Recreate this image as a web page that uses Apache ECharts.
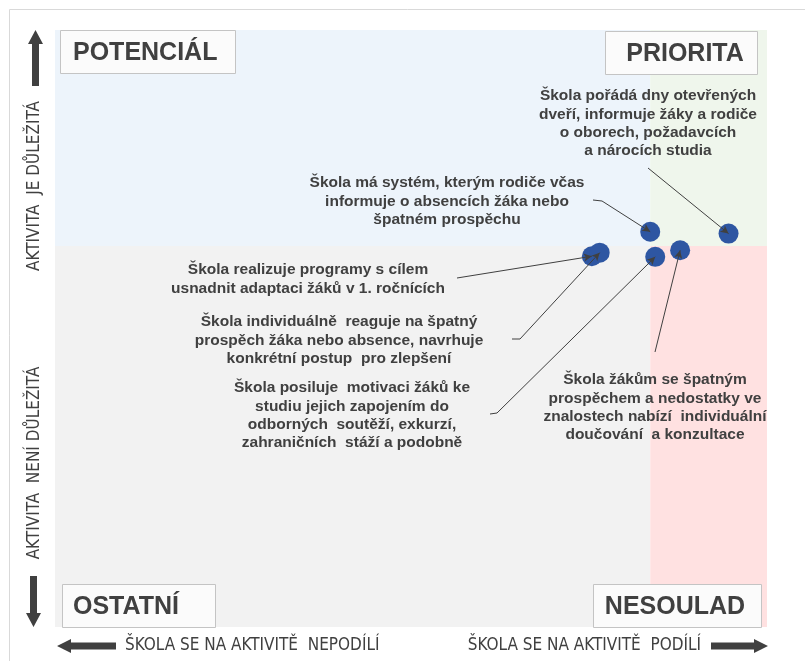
<!DOCTYPE html>
<html lang="cs">
<head>
<meta charset="utf-8">
<title>Matice aktivit školy</title>
<script src="https://cdn.jsdelivr.net/npm/echarts@6/dist/echarts.min.js"></script>
<style>
    html, body { margin: 0; padding: 0; background: #fff; }
    #main { width: 805px; height: 661px; }
</style>
</head>
<body>
<div id="main"></div>
<script type="text/javascript">
// activities (points)
var activities = [
    'Škola pořádá dny otevřených\ndveří, informuje žáky a rodiče\no oborech, požadavcích\na nárocích studia',
    'Škola má systém, kterým rodiče včas\ninformuje o absencích žáka nebo\nšpatném prospěchu',
    'Škola realizuje programy s cílem\nusnadnit adaptaci žáků v 1. ročnících',
    'Škola individuálně  reaguje na špatný\nprospěch žáka nebo absence, navrhuje\nkonkrétní postup  pro zlepšení',
    'Škola posiluje  motivaci žáků ke\nstudiu jejich zapojením do\nodborných  soutěží, exkurzí,\nzahraničních  stáží a podobně',
    'Škola žákům se špatným\nprospěchem a nedostatky ve\nznalostech nabízí  individuální\ndoučování  a konzultace'
];
var podil      = [94.6, 83.6, 75.4, 76.5, 84.3, 87.8];   // x: škola se na aktivitě podílí
var dulezitost = [65.9, 66.2, 62.1, 62.7, 62.0, 63.1];   // y: aktivita je důležitá
var xSplit = 83.6, ySplit = 63.8;
var quadrants = ['POTENCIÁL', 'PRIORITA', 'OSTATNÍ', 'NESOULAD'];
var yAxisTexts = ['AKTIVITA  JE DŮLEŽITÁ', 'AKTIVITA  NENÍ DŮLEŽITÁ'];
var xAxisTexts = ['ŠKOLA SE NA AKTIVITĚ  NEPODÍLÍ', 'ŠKOLA SE NA AKTIVITĚ  PODÍLÍ'];

// layout of callouts (pixels): text centre x, first line y, leader start, optional stub
var callouts = [
    { cx: 648, y: 96,  from: [648, 168] },
    { cx: 447, y: 183, from: [602, 201], stub: [593, 200] },
    { cx: 308, y: 270, from: [457, 278] },
    { cx: 339, y: 322, from: [520, 339], stub: [512, 339] },
    { cx: 352, y: 388, from: [497, 413], stub: [490, 414] },
    { cx: 655, y: 380, from: [655, 352] }
];

var txt = '#404040';
var narrow = '"Liberation Sans Narrow", "DejaVu Sans Condensed", sans-serif';
var boldFont = 'bold 15.5px "Liberation Sans", Arial, sans-serif';

var myChart = echarts.init(document.getElementById('main'));

var points = podil.map(function (v, i) { return [v, dulezitost[i]]; });

var leaders = callouts.map(function (c, i) {
    return [
        { x: c.from[0], y: c.from[1] },
        { coord: points[i] }
    ];
});

var graphics = [];
// outer frame
graphics.push({ type: 'rect', shape: { x: 9.5, y: 9.5, width: 820, height: 680 },
    style: { fill: null, stroke: '#d9d9d9', lineWidth: 1 }, z: -10 });

// callout texts
callouts.forEach(function (c, i) {
    graphics.push({ type: 'text', x: c.cx, y: c.y - 9.15, z: 20,
        style: { text: activities[i], font: boldFont, fill: txt, align: 'center',
            verticalAlign: 'top', lineHeight: 18.3 } });
    if (c.stub) {
        graphics.push({ type: 'line', z: 20,
            shape: { x1: c.stub[0], y1: c.stub[1], x2: c.from[0], y2: c.from[1] },
            style: { stroke: txt, lineWidth: 1 } });
    }
});

// quadrant boxes
var boxes = [
    { x: 60.5, y: 30.5, w: 175, h: 43, tx: 73, align: 'left' },
    { x: 605.5, y: 31.5, w: 152, h: 43, tx: 685, align: 'center' },
    { x: 62.5, y: 584.5, w: 153, h: 43, tx: 73, align: 'left' },
    { x: 593.5, y: 584.5, w: 168, h: 43, tx: 675, align: 'center' }
];
boxes.forEach(function (b, i) {
    graphics.push({ type: 'rect', z: 15, shape: { x: b.x, y: b.y, width: b.w, height: b.h },
        style: { fill: '#fbfbfb', stroke: '#c4c4c4', lineWidth: 1 } });
    graphics.push({ type: 'text', z: 16, x: b.tx, y: b.y + b.h / 2 + 1,
        style: { text: quadrants[i], font: 'bold 25px "Liberation Sans", Arial, sans-serif',
            fill: txt, align: b.align, verticalAlign: 'middle' } });
});

// axis captions
graphics.push({ type: 'text', x: 35, y: 186, rotation: Math.PI / 2,
    style: { text: yAxisTexts[0], font: '17px ' + narrow, fill: txt, align: 'center', verticalAlign: 'middle' } });
graphics.push({ type: 'text', x: 35, y: 463, rotation: Math.PI / 2,
    style: { text: yAxisTexts[1], font: '17px ' + narrow, fill: txt, align: 'center', verticalAlign: 'middle' } });
graphics.push({ type: 'text', x: 125, y: 646,
    style: { text: xAxisTexts[0], font: '17px ' + narrow, fill: txt, align: 'left', verticalAlign: 'middle' } });
graphics.push({ type: 'text', x: 701, y: 646,
    style: { text: xAxisTexts[1], font: '17px ' + narrow, fill: txt, align: 'right', verticalAlign: 'middle' } });

// big arrows
var arrowFill = '#404040';
graphics.push({ type: 'polygon', shape: { points: [[35.5, 30], [43, 44], [39, 44], [39, 86], [32, 86], [32, 44], [28, 44]] },
    style: { fill: arrowFill } });
graphics.push({ type: 'polygon', shape: { points: [[33.5, 627], [41, 613], [37, 613], [37, 576], [30, 576], [30, 613], [26, 613]] },
    style: { fill: arrowFill } });
graphics.push({ type: 'polygon', shape: { points: [[57, 646], [71, 639], [71, 642.5], [116, 642.5], [116, 649.5], [71, 649.5], [71, 653]] },
    style: { fill: arrowFill } });
graphics.push({ type: 'polygon', shape: { points: [[768, 646], [754, 639], [754, 642.5], [711, 642.5], [711, 649.5], [754, 649.5], [754, 653]] },
    style: { fill: arrowFill } });

myChart.setOption({
    animation: false,
    grid: { left: 55, top: 30, right: 38, bottom: 34 },
    xAxis: { type: 'value', min: 0, max: 100, show: false },
    yAxis: { type: 'value', min: 0, max: 100, show: false },
    graphic: graphics,
    series: [{
        name: 'kvadranty',
        type: 'scatter',
        data: [],
        z: 1,
        markArea: {
            silent: true,
            z: 1,
            data: [
                [{ coord: [0, ySplit], itemStyle: { color: '#edf4fb' } }, { coord: [xSplit, 100] }],
                [{ coord: [xSplit, ySplit], itemStyle: { color: '#eff6ec' } }, { coord: [100, 100] }],
                [{ coord: [0, 0], itemStyle: { color: '#f2f2f2' } }, { coord: [xSplit, ySplit] }],
                [{ coord: [xSplit, 0], itemStyle: { color: '#ffe1e1' } }, { coord: [100, ySplit] }]
            ]
        }
    }, {
        name: 'aktivity',
        type: 'scatter',
        z: 5,
        symbolSize: 20,
        itemStyle: { color: '#2e56a2', opacity: 1 },
        data: points
    }, {
        name: 'popisky',
        type: 'scatter',
        data: [],
        z: 10,
        markLine: {
            silent: true,
            z: 12,
            symbol: ['none', 'arrow'],
            symbolSize: [6, 8],
            label: { show: false },
            lineStyle: { color: txt, width: 1, type: 'solid' },
            data: leaders
        }
    }]
});
</script>
</body>
</html>
